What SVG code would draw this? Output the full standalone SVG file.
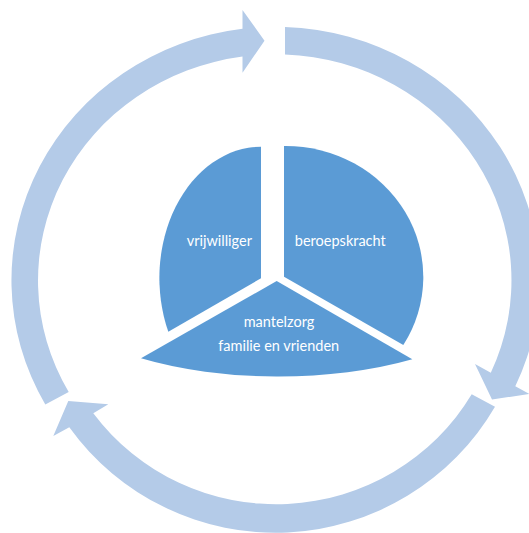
<svg xmlns="http://www.w3.org/2000/svg" width="529" height="533" viewBox="0 0 529 533">
  <style>
    .ring { fill: #B4CBE8; stroke: none; }
    .slice { fill: #5B9BD5; stroke: none; }
    .label { font-family: "Lato", "Liberation Sans", sans-serif; font-size: 14.5px; fill: #FFFFFF; text-anchor: middle; }
  </style>
  <rect x="0" y="0" width="529" height="533" fill="#FFFFFF"/>
  <g id="connectors">
    <path class="ring" d="M 45.3,404.5 A 264 253.5 0 0 1 242.5,28.8 L 242.5,10 L 264.5,40.7 L 242.5,72.7 L 242.5,56.6 A 236 226 0 0 0 68.7,392 Z"/>
    <path class="ring" d="M 285,26.9 A 264 253.5 0 0 1 515.3,386.2 L 529.5,394 L 492,399.5 L 475,364 L 490.8,372.7 A 236 226 0 0 0 285,54.4 Z"/>
    <path class="ring" d="M 495,406.7 A 254 253.5 0 0 1 69.3,427.3 L 53.3,436 L 68.3,401 L 108.3,404.3 L 93.3,413.3 A 228 226 0 0 0 471.7,394.3 Z"/>
  </g>
  <g id="node-vrijwilliger">
    <path class="slice" d="M 261,146.7 L 261,278.3 L 168.3,331.7 A 102 131.3 0 0 1 261,146.7 Z"/>
    <text class="label" x="219.3" y="246">vrijwilliger</text>
  </g>
  <g id="node-beroepskracht">
    <path class="slice" d="M 284,146 A 137.7 131 0 0 1 403.3,345 L 284,276.7 Z"/>
    <text class="label" x="340.3" y="246">beroepskracht</text>
  </g>
  <g id="node-mantelzorg">
    <path class="slice" d="M 276.7,281 L 412.3,359.3 A 233.5 95 0 0 1 141,358.3 Z"/>
    <text class="label" x="279" y="327.3">mantelzorg</text>
    <text class="label" x="278.7" y="351">familie en vrienden</text>
  </g>
</svg>
